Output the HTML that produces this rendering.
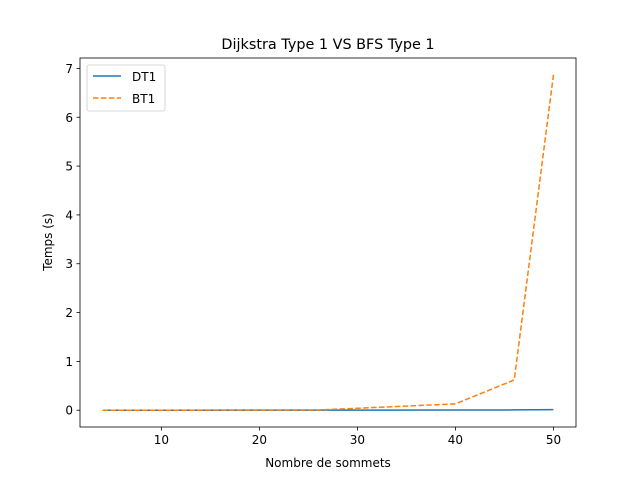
<!DOCTYPE html>
<html><head><meta charset="utf-8"><style>
body{margin:0;background:#fff;font-family:"Liberation Sans","DejaVu Sans",sans-serif;}
svg text{font-family:"DejaVu Sans","Liberation Sans",sans-serif;}
</style></head><body>
<svg id="chart" width="640" height="480" xmlns="http://www.w3.org/2000/svg">
<rect width="640" height="480" fill="#fff"/>
<text x="328" y="49" font-size="14.4" text-anchor="middle">Dijkstra Type 1 VS BFS Type 1</text>
<g id="plot"></g>
<rect x="80" y="58" width="496" height="369" fill="none" stroke="#000" stroke-width="0.8"/>
<text x="328" y="467" font-size="12" text-anchor="middle">Nombre de sommets</text>
<text x="52" y="242" font-size="12" text-anchor="middle" transform="rotate(-90 52 242)">Temps (s)</text>
<g>
<rect x="87" y="65" width="78" height="46" rx="2" fill="#fff" stroke="#ccc" stroke-width="0.8"/>
<line x1="93" y1="76" x2="121" y2="76" stroke="#1f77b4" stroke-width="1.5"/>
<text x="132" y="81" font-size="12">DT1</text>
<line x1="93" y1="98" x2="121" y2="98" stroke="#ff7f0e" stroke-width="1.5" stroke-dasharray="5.5,2.4"/>
<text x="132" y="103" font-size="12">BT1</text>
</g>
</svg>
<script>
const xValues=[4,10,20,26,30,40,46,50];
const dt1Values=[0,0,0.001,0.001,0.002,0.004,0.006,0.012];
const bt1Values=[0,0,0.002,0.005,0.04,0.13,0.62,6.87];
const xTicks=[10,20,30,40,50];
const yTicks=[0,1,2,3,4,5,6,7];
const L=80,R=576,T=58,B=427;
const xmin=1.7,xmax=52.3,ymin=-0.3435,ymax=7.2135;
const sx=v=>L+(v-xmin)/(xmax-xmin)*(R-L);
const sy=v=>B-(v-ymin)/(ymax-ymin)*(B-T);
const NS="http://www.w3.org/2000/svg";
const g=document.getElementById('plot');
function mk(t,a){const e=document.createElementNS(NS,t);for(const k in a)e.setAttribute(k,a[k]);g.appendChild(e);return e;}
xTicks.forEach(v=>{
 const l=mk('line',{x1:sx(v),x2:sx(v),y1:B,y2:B+3.5,stroke:'#000','stroke-width':0.8});
 
 
 const t=mk('text',{x:sx(v),y:B+17,'font-size':12,'text-anchor':'middle'});t.textContent=v;
 
 
});
yTicks.forEach(v=>{
 const l=mk('line',{x1:L-3.5,x2:L,y1:sy(v),y2:sy(v),stroke:'#000','stroke-width':0.8});
 
 
 const t=mk('text',{x:L-7,y:sy(v)+4.5,'font-size':12,'text-anchor':'end'});t.textContent=v;
 
 
});
const pts=a=>xValues.map((x,i)=>sx(x)+','+sy(a[i])).join(' ');
const p1=mk('polyline',{points:pts(dt1Values),fill:'none',stroke:'#1f77b4','stroke-width':1.5});


const p2=mk('polyline',{points:pts(bt1Values),fill:'none',stroke:'#ff7f0e','stroke-width':1.5,'stroke-dasharray':'5.5,2.4'});


</script>
</body></html>
